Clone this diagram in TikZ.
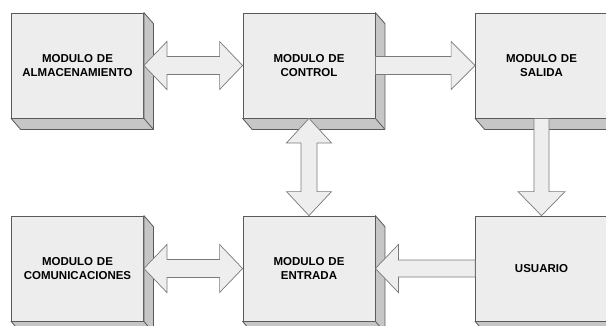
\documentclass[tikz,border=0pt]{standalone}
\usepackage{fontspec}
\setmainfont{Liberation Sans}
\usetikzlibrary{calc}
\definecolor{boxfront}{HTML}{EDEDED}
\definecolor{boxside}{HTML}{C6C6C6}
\definecolor{boxline}{HTML}{5A5A5A}
\definecolor{arrline}{HTML}{7A7A7A}
\definecolor{arrfill}{HTML}{EEEEEE}
\newcommand\mkextrude[1]{%
  \draw[sideface] (#1.north east) -- ++(9.5,11) -- ([shift={(9.5,11)}]#1.south east)
    -- ([shift={(9.5,11)}]#1.south west) -- (#1.south west) -- (#1.south east) -- cycle;
  \draw[sideface] (#1.south east) -- ++(9.5,11);}
\begin{document}
\begin{tikzpicture}[x=1pt,y=-1pt,
  box/.style={draw=boxline, fill=boxfront, line width=0.8pt, minimum width=132pt,
    minimum height=105pt, inner sep=0pt, align=center, text width=130pt,
    font=\fontsize{11.5}{14}\selectfont\bfseries},
  sideface/.style={draw=boxline, fill=boxside, line width=0.8pt, line join=round},
  arr/.style={draw=arrline, fill=arrfill, line width=0.7pt, line join=miter}]
\useasboundingbox (0,0) rectangle (606,325);
\clip (0,0) rectangle (606,325);
\node[box] (alm) at (77.5,65.5) {MODULO DE\\ALMACENAMIENTO};
\node[box] (ctl) at (309,65.5) {MODULO DE\\CONTROL};
\node[box] (sal) at (541.5,65.5) {MODULO DE\\SALIDA};
\node[box] (com) at (77.5,268.5) {MODULO DE\\COMUNICACIONES};
\node[box] (ent) at (309,268.5) {MODULO DE\\ENTRADA};
\node[box] (usr) at (541.5,268.5) {USUARIO};
\mkextrude{alm}\mkextrude{ctl}\mkextrude{sal}
\mkextrude{com}\mkextrude{ent}\mkextrude{usr}
% almacenamiento <-> control
\draw[arr] (alm.east) -- ++(23,-24) -- ++(0,15) -- ($(ctl.west)+(-23,-9)$) -- ++(0,-15)
  -- (ctl.west) -- ++(-23,24) -- ++(0,-15) -- ($(alm.east)+(23,9)$) -- ++(0,15) -- cycle;
% comunicaciones <-> entrada
\draw[arr] (com.east) -- ++(23,-24) -- ++(0,15) -- ($(ent.west)+(-23,-9)$) -- ++(0,-15)
  -- (ent.west) -- ++(-23,24) -- ++(0,-15) -- ($(com.east)+(23,9)$) -- ++(0,15) -- cycle;
% control <-> entrada
\draw[arr] (ctl.south) -- ++(-22.5,24.5) -- ++(14.5,0) -- ($(ent.north)+(-8,-24)$) -- ++(-14.5,0)
  -- (ent.north) -- ++(22.5,-24) -- ++(-14.5,0) -- ($(ctl.south)+(8,24.5)$) -- ++(14.5,0) -- cycle;
% control -> salida
\draw[arr] ($(ctl.east)+(0,-9)$) -- ($(sal.west)+(-24,-9)$) -- ++(0,-15) -- (sal.west)
  -- ++(-24,24) -- ++(0,-15) -- ($(ctl.east)+(0,9)$) -- cycle;
% salida -> usuario
\draw[arr] ($(sal.south)+(-7.5,0)$) -- ($(usr.north)+(-7.5,-24)$) -- ++(-16,0) -- (usr.north)
  -- ++(23.5,-24) -- ++(-16,0) -- ($(sal.south)+(7.5,0)$) -- cycle;
% usuario -> entrada
\draw[arr] ($(usr.west)+(0,-8.5)$) -- ($(ent.east)+(23,-8.5)$) -- ++(0,-15.5) -- (ent.east)
  -- ++(23,24) -- ++(0,-15.5) -- ($(usr.west)+(0,8.5)$) -- cycle;
\end{tikzpicture}
\end{document}
